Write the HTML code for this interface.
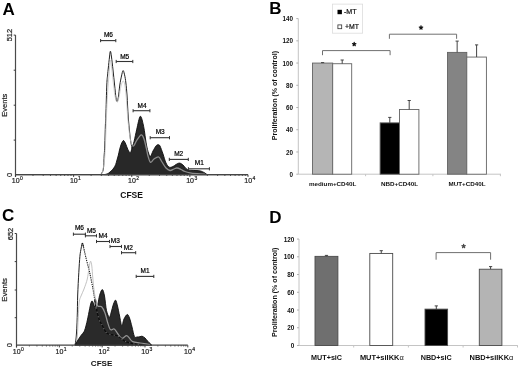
<!DOCTYPE html>
<html><head><meta charset="utf-8"><style>
html,body{margin:0;padding:0;background:#fff;}
svg{display:block;filter:grayscale(1) blur(0.3px);}
text{font-family:"Liberation Sans", sans-serif;}
</style></head><body>
<svg width="520" height="367" viewBox="0 0 520 367">
<rect width="520" height="367" fill="#fff"/>
<text x="2.5" y="14.7" font-size="17" font-weight="bold" text-anchor="start" fill="#000" >A</text>
<line x1="15.50" y1="35.10" x2="15.50" y2="176.90" stroke="#4a4a4a" stroke-width="1.2"/>
<line x1="13.70" y1="35.10" x2="15.50" y2="35.10" stroke="#3a3a3a" stroke-width="1"/>
<line x1="13.70" y1="70.20" x2="15.50" y2="70.20" stroke="#3a3a3a" stroke-width="1"/>
<line x1="13.70" y1="105.20" x2="15.50" y2="105.20" stroke="#3a3a3a" stroke-width="1"/>
<line x1="13.70" y1="140.10" x2="15.50" y2="140.10" stroke="#3a3a3a" stroke-width="1"/>
<line x1="15.50" y1="174.70" x2="248.00" y2="174.70" stroke="#454545" stroke-width="1.3"/>
<line x1="15.50" y1="174.70" x2="15.50" y2="176.90" stroke="#3a3a3a" stroke-width="1"/>
<line x1="33.00" y1="174.70" x2="33.00" y2="176.00" stroke="#3a3a3a" stroke-width="0.8"/>
<line x1="43.23" y1="174.70" x2="43.23" y2="176.00" stroke="#3a3a3a" stroke-width="0.8"/>
<line x1="50.49" y1="174.70" x2="50.49" y2="176.00" stroke="#3a3a3a" stroke-width="0.8"/>
<line x1="56.13" y1="174.70" x2="56.13" y2="176.00" stroke="#3a3a3a" stroke-width="0.8"/>
<line x1="60.73" y1="174.70" x2="60.73" y2="176.00" stroke="#3a3a3a" stroke-width="0.8"/>
<line x1="64.62" y1="174.70" x2="64.62" y2="176.00" stroke="#3a3a3a" stroke-width="0.8"/>
<line x1="67.99" y1="174.70" x2="67.99" y2="176.00" stroke="#3a3a3a" stroke-width="0.8"/>
<line x1="70.97" y1="174.70" x2="70.97" y2="176.00" stroke="#3a3a3a" stroke-width="0.8"/>
<text x="15.7" y="182.5" font-size="7" stroke="#222" stroke-width="0.2" text-anchor="middle" fill="#222" >10</text>
<text x="20.0" y="179.5" font-size="5" stroke="#222" stroke-width="0.2" text-anchor="start" fill="#222" >0</text>
<line x1="73.62" y1="174.70" x2="73.62" y2="176.90" stroke="#3a3a3a" stroke-width="1"/>
<line x1="91.12" y1="174.70" x2="91.12" y2="176.00" stroke="#3a3a3a" stroke-width="0.8"/>
<line x1="101.36" y1="174.70" x2="101.36" y2="176.00" stroke="#3a3a3a" stroke-width="0.8"/>
<line x1="108.62" y1="174.70" x2="108.62" y2="176.00" stroke="#3a3a3a" stroke-width="0.8"/>
<line x1="114.25" y1="174.70" x2="114.25" y2="176.00" stroke="#3a3a3a" stroke-width="0.8"/>
<line x1="118.86" y1="174.70" x2="118.86" y2="176.00" stroke="#3a3a3a" stroke-width="0.8"/>
<line x1="122.75" y1="174.70" x2="122.75" y2="176.00" stroke="#3a3a3a" stroke-width="0.8"/>
<line x1="126.12" y1="174.70" x2="126.12" y2="176.00" stroke="#3a3a3a" stroke-width="0.8"/>
<line x1="129.09" y1="174.70" x2="129.09" y2="176.00" stroke="#3a3a3a" stroke-width="0.8"/>
<text x="73.8" y="182.5" font-size="7" stroke="#222" stroke-width="0.2" text-anchor="middle" fill="#222" >10</text>
<text x="78.1" y="179.5" font-size="5" stroke="#222" stroke-width="0.2" text-anchor="start" fill="#222" >1</text>
<line x1="131.75" y1="174.70" x2="131.75" y2="176.90" stroke="#3a3a3a" stroke-width="1"/>
<line x1="149.25" y1="174.70" x2="149.25" y2="176.00" stroke="#3a3a3a" stroke-width="0.8"/>
<line x1="159.48" y1="174.70" x2="159.48" y2="176.00" stroke="#3a3a3a" stroke-width="0.8"/>
<line x1="166.74" y1="174.70" x2="166.74" y2="176.00" stroke="#3a3a3a" stroke-width="0.8"/>
<line x1="172.38" y1="174.70" x2="172.38" y2="176.00" stroke="#3a3a3a" stroke-width="0.8"/>
<line x1="176.98" y1="174.70" x2="176.98" y2="176.00" stroke="#3a3a3a" stroke-width="0.8"/>
<line x1="180.87" y1="174.70" x2="180.87" y2="176.00" stroke="#3a3a3a" stroke-width="0.8"/>
<line x1="184.24" y1="174.70" x2="184.24" y2="176.00" stroke="#3a3a3a" stroke-width="0.8"/>
<line x1="187.22" y1="174.70" x2="187.22" y2="176.00" stroke="#3a3a3a" stroke-width="0.8"/>
<text x="131.9" y="182.5" font-size="7" stroke="#222" stroke-width="0.2" text-anchor="middle" fill="#222" >10</text>
<text x="136.2" y="179.5" font-size="5" stroke="#222" stroke-width="0.2" text-anchor="start" fill="#222" >2</text>
<line x1="189.88" y1="174.70" x2="189.88" y2="176.90" stroke="#3a3a3a" stroke-width="1"/>
<line x1="207.37" y1="174.70" x2="207.37" y2="176.00" stroke="#3a3a3a" stroke-width="0.8"/>
<line x1="217.61" y1="174.70" x2="217.61" y2="176.00" stroke="#3a3a3a" stroke-width="0.8"/>
<line x1="224.87" y1="174.70" x2="224.87" y2="176.00" stroke="#3a3a3a" stroke-width="0.8"/>
<line x1="230.50" y1="174.70" x2="230.50" y2="176.00" stroke="#3a3a3a" stroke-width="0.8"/>
<line x1="235.11" y1="174.70" x2="235.11" y2="176.00" stroke="#3a3a3a" stroke-width="0.8"/>
<line x1="239.00" y1="174.70" x2="239.00" y2="176.00" stroke="#3a3a3a" stroke-width="0.8"/>
<line x1="242.37" y1="174.70" x2="242.37" y2="176.00" stroke="#3a3a3a" stroke-width="0.8"/>
<line x1="245.34" y1="174.70" x2="245.34" y2="176.00" stroke="#3a3a3a" stroke-width="0.8"/>
<text x="190.1" y="182.5" font-size="7" stroke="#222" stroke-width="0.2" text-anchor="middle" fill="#222" >10</text>
<text x="194.4" y="179.5" font-size="5" stroke="#222" stroke-width="0.2" text-anchor="start" fill="#222" >3</text>
<line x1="248.00" y1="174.70" x2="248.00" y2="176.90" stroke="#3a3a3a" stroke-width="1"/>
<text x="248.2" y="182.5" font-size="7" stroke="#222" stroke-width="0.2" text-anchor="middle" fill="#222" >10</text>
<text x="252.5" y="179.5" font-size="5" stroke="#222" stroke-width="0.2" text-anchor="start" fill="#222" >4</text>
<text x="12.2" y="35.1" font-size="7.5" stroke="#222" stroke-width="0.2" text-anchor="middle" fill="#222" transform="rotate(-90 12.2 35.1)" >512</text>
<text x="7.4" y="105.2" font-size="7.5" stroke="#222" stroke-width="0.2" text-anchor="middle" fill="#222" transform="rotate(-90 7.4 105.2)" >Events</text>
<text x="11.8" y="174.8" font-size="7.5" stroke="#222" stroke-width="0.2" text-anchor="middle" fill="#222" transform="rotate(-90 11.8 174.8)" >0</text>
<text x="131.6" y="197.8" font-size="8.5" font-weight="bold" text-anchor="middle" fill="#111" >CFSE</text>
<path d="M100.2,174.6 C100.7,173.8 102.5,173.3 103.2,170.0 C103.9,166.7 103.9,159.2 104.2,155.0 C104.5,150.8 104.6,150.0 104.8,145.0 C105.0,140.0 105.2,130.0 105.4,125.0 C105.6,120.0 105.7,121.7 105.9,115.0 C106.1,108.3 106.5,91.7 106.8,85.0 C107.1,78.3 107.3,77.8 107.6,75.0 C107.8,72.2 108.0,71.0 108.3,68.0 C108.6,65.0 109.2,59.8 109.5,57.0 C109.8,54.2 110.1,51.2 110.4,51.2 C110.7,51.2 111.1,53.9 111.5,57.0 C111.9,60.1 112.5,65.3 113.0,70.0 C113.5,74.7 114.1,80.3 114.6,85.0 C115.1,89.7 115.6,95.2 116.0,98.0 C116.4,100.8 116.7,101.6 117.1,101.5 C117.5,101.4 117.8,100.2 118.3,97.5 C118.8,94.8 119.3,88.6 119.8,85.0 C120.3,81.4 121.0,78.4 121.5,76.0 C122.0,73.6 122.6,70.8 123.1,70.6 C123.6,70.4 124.1,72.9 124.6,75.0 C125.1,77.1 125.5,79.7 125.9,83.0 C126.3,86.3 126.7,91.2 127.0,95.0 C127.3,98.8 127.4,102.2 127.6,106.0 C127.8,109.8 128.0,113.7 128.3,118.0 C128.6,122.3 129.2,127.8 129.6,132.0 C130.0,136.2 130.5,140.0 131.0,143.0 C131.5,146.0 131.9,147.2 132.4,150.0 C132.9,152.8 133.4,157.0 133.8,160.0 C134.2,163.0 134.5,165.6 135.0,168.0 C135.5,170.4 136.7,173.5 137.0,174.6 Z" fill="#fff" stroke="#222" stroke-width="1"/>
<path d="M102.0,174.6 C102.4,172.2 103.9,165.8 104.5,160.0 C105.1,154.2 105.3,147.5 105.6,140.0 C105.9,132.5 106.2,122.5 106.5,115.0 C106.8,107.5 107.2,100.8 107.5,95.0 C107.8,89.2 108.2,85.0 108.6,80.0 C109.0,75.0 109.5,68.3 109.8,65.0 C110.1,61.7 110.3,59.8 110.6,60.0 C110.9,60.2 111.1,62.7 111.5,66.0 C111.9,69.3 112.4,75.0 113.0,80.0 C113.6,85.0 114.3,92.3 115.0,96.0 C115.7,99.7 116.4,102.0 117.1,102.2 C117.8,102.4 118.3,99.7 119.0,97.0 C119.7,94.3 120.3,88.7 121.0,86.0 C121.7,83.3 122.5,81.0 123.2,81.0 C123.9,81.0 124.5,82.8 125.0,86.0 C125.5,89.2 126.1,95.2 126.5,100.0 C126.9,104.8 127.1,110.0 127.5,115.0 C127.9,120.0 128.5,125.8 129.0,130.0 C129.5,134.2 129.9,137.3 130.5,140.0 C131.1,142.7 131.9,145.1 132.5,146.0 C133.1,146.9 133.8,145.5 134.1,145.4" fill="none" stroke="#c4c4c4" stroke-width="0.8"/>
<path d="M104.8,174.6 C105.4,174.4 107.4,173.9 108.5,173.2 C109.6,172.5 110.6,171.5 111.5,170.6 C112.4,169.7 113.1,169.0 113.8,168.0 C114.5,167.0 115.2,165.8 115.7,164.5 C116.2,163.2 116.5,161.6 117.0,160.0 C117.5,158.4 118.0,156.7 118.4,155.0 C118.8,153.3 119.0,151.8 119.5,150.0 C120.0,148.2 120.6,145.6 121.3,144.0 C122.0,142.4 122.8,140.5 123.5,140.5 C124.2,140.5 125.0,142.5 125.7,144.0 C126.4,145.5 127.1,148.0 127.9,149.5 C128.7,151.0 129.6,153.0 130.3,152.8 C131.0,152.6 131.4,150.0 132.0,148.1 C132.6,146.2 133.3,144.5 134.1,141.3 C134.9,138.1 135.8,133.3 136.8,129.1 C137.8,124.9 139.2,116.8 140.3,116.3 C141.4,115.8 142.6,121.7 143.6,126.3 C144.6,130.9 145.5,139.6 146.3,144.0 C147.1,148.4 147.8,150.9 148.5,153.0 C149.2,155.1 149.8,156.6 150.5,156.3 C151.2,156.0 152.1,152.7 153.0,151.0 C153.9,149.3 155.2,147.1 156.0,146.0 C156.8,144.9 157.3,144.7 158.0,144.7 C158.7,144.7 159.2,144.4 160.0,146.0 C160.8,147.6 162.0,151.2 163.0,154.0 C164.0,156.8 164.9,160.8 166.0,163.0 C167.1,165.2 168.1,166.6 169.3,167.2 C170.5,167.8 171.9,166.9 173.0,166.5 C174.1,166.1 174.9,165.1 176.0,164.5 C177.1,163.9 178.4,163.0 179.6,163.1 C180.8,163.2 181.9,164.1 183.0,165.0 C184.1,165.9 185.1,167.7 186.0,168.5 C186.9,169.3 187.3,169.7 188.3,170.0 C189.3,170.3 190.1,170.2 192.0,170.3 C193.9,170.5 198.0,170.5 200.0,170.9 C202.0,171.3 202.8,171.9 204.0,172.5 C205.2,173.1 206.5,174.2 207.0,174.6 Z" fill="#282828" stroke="#0d0d0d" stroke-width="0.9"/>
<path d="M132.5,146.0 C132.8,145.9 133.3,146.4 134.1,145.4 C134.8,144.4 135.8,141.8 137.0,140.0 C138.2,138.2 140.1,135.0 141.3,134.8 C142.5,134.6 143.2,136.8 144.0,139.0 C144.8,141.2 145.6,145.2 146.3,148.0 C147.0,150.8 147.3,153.6 148.0,156.0 C148.7,158.4 149.5,161.8 150.5,162.3 C151.5,162.8 152.6,159.9 154.0,159.0 C155.4,158.1 157.4,156.5 158.7,157.0 C160.0,157.5 160.8,160.2 162.0,162.0 C163.2,163.8 164.7,166.6 166.0,168.0 C167.3,169.4 168.7,170.3 170.0,170.5 C171.3,170.7 172.8,169.4 174.0,169.0 C175.2,168.6 175.8,167.9 177.0,168.0 C178.2,168.1 179.7,168.9 181.0,169.5 C182.3,170.1 183.5,170.9 185.0,171.5 C186.5,172.1 188.0,172.5 190.0,172.8 C192.0,173.2 194.5,173.4 197.0,173.6 C199.5,173.8 203.7,174.1 205.0,174.2" fill="none" stroke="#8c8c8c" stroke-width="1.3"/>
<line x1="15.50" y1="174.70" x2="248.00" y2="174.70" stroke="#454545" stroke-width="1.3"/>
<line x1="100.60" y1="40.60" x2="115.80" y2="40.60" stroke="#333" stroke-width="1.1"/>
<line x1="100.60" y1="39.00" x2="100.60" y2="42.20" stroke="#333" stroke-width="1"/>
<line x1="115.80" y1="39.00" x2="115.80" y2="42.20" stroke="#333" stroke-width="1"/>
<text x="103.9" y="36.9" font-size="6.5" stroke="#000" stroke-width="0.2" text-anchor="start" fill="#000" >M6</text>
<line x1="116.20" y1="61.50" x2="132.80" y2="61.50" stroke="#333" stroke-width="1.1"/>
<line x1="116.20" y1="59.90" x2="116.20" y2="63.10" stroke="#333" stroke-width="1"/>
<line x1="132.80" y1="59.90" x2="132.80" y2="63.10" stroke="#333" stroke-width="1"/>
<text x="120.2" y="58.6" font-size="6.5" stroke="#000" stroke-width="0.2" text-anchor="start" fill="#000" >M5</text>
<line x1="133.10" y1="110.70" x2="149.90" y2="110.70" stroke="#333" stroke-width="1.1"/>
<line x1="133.10" y1="109.10" x2="133.10" y2="112.30" stroke="#333" stroke-width="1"/>
<line x1="149.90" y1="109.10" x2="149.90" y2="112.30" stroke="#333" stroke-width="1"/>
<text x="137.6" y="107.9" font-size="6.5" stroke="#000" stroke-width="0.2" text-anchor="start" fill="#000" >M4</text>
<line x1="150.20" y1="137.70" x2="169.50" y2="137.70" stroke="#333" stroke-width="1.1"/>
<line x1="150.20" y1="136.10" x2="150.20" y2="139.30" stroke="#333" stroke-width="1"/>
<line x1="169.50" y1="136.10" x2="169.50" y2="139.30" stroke="#333" stroke-width="1"/>
<text x="155.7" y="134.0" font-size="6.5" stroke="#000" stroke-width="0.2" text-anchor="start" fill="#000" >M3</text>
<line x1="169.30" y1="159.40" x2="188.30" y2="159.40" stroke="#333" stroke-width="1.1"/>
<line x1="169.30" y1="157.80" x2="169.30" y2="161.00" stroke="#333" stroke-width="1"/>
<line x1="188.30" y1="157.80" x2="188.30" y2="161.00" stroke="#333" stroke-width="1"/>
<text x="174.2" y="155.8" font-size="6.5" stroke="#000" stroke-width="0.2" text-anchor="start" fill="#000" >M2</text>
<line x1="188.40" y1="168.80" x2="209.40" y2="168.80" stroke="#333" stroke-width="1.1"/>
<line x1="188.40" y1="167.20" x2="188.40" y2="170.40" stroke="#333" stroke-width="1"/>
<line x1="209.40" y1="167.20" x2="209.40" y2="170.40" stroke="#333" stroke-width="1"/>
<text x="194.8" y="165.1" font-size="6.5" stroke="#000" stroke-width="0.2" text-anchor="start" fill="#000" >M1</text>
<text x="269.2" y="13.6" font-size="17" font-weight="bold" text-anchor="start" fill="#000" >B</text>
<line x1="298.30" y1="18.60" x2="298.30" y2="174.20" stroke="#c4c4c4" stroke-width="1"/>
<line x1="298.30" y1="174.20" x2="501.00" y2="174.20" stroke="#c4c4c4" stroke-width="1"/>
<line x1="365.60" y1="174.20" x2="365.60" y2="176.20" stroke="#c4c4c4" stroke-width="1"/>
<line x1="432.90" y1="174.20" x2="432.90" y2="176.20" stroke="#c4c4c4" stroke-width="1"/>
<line x1="500.40" y1="174.20" x2="500.40" y2="176.20" stroke="#c4c4c4" stroke-width="1"/>
<line x1="296.30" y1="174.20" x2="298.30" y2="174.20" stroke="#b0b0b0" stroke-width="1"/>
<text x="292.9" y="176.8" font-size="6.3" font-weight="bold" text-anchor="end" fill="#111" >0</text>
<line x1="296.30" y1="151.97" x2="298.30" y2="151.97" stroke="#b0b0b0" stroke-width="1"/>
<text x="292.9" y="154.6" font-size="6.3" font-weight="bold" text-anchor="end" fill="#111" >20</text>
<line x1="296.30" y1="129.74" x2="298.30" y2="129.74" stroke="#b0b0b0" stroke-width="1"/>
<text x="292.9" y="132.3" font-size="6.3" font-weight="bold" text-anchor="end" fill="#111" >40</text>
<line x1="296.30" y1="107.52" x2="298.30" y2="107.52" stroke="#b0b0b0" stroke-width="1"/>
<text x="292.9" y="110.1" font-size="6.3" font-weight="bold" text-anchor="end" fill="#111" >60</text>
<line x1="296.30" y1="85.29" x2="298.30" y2="85.29" stroke="#b0b0b0" stroke-width="1"/>
<text x="292.9" y="87.9" font-size="6.3" font-weight="bold" text-anchor="end" fill="#111" >80</text>
<line x1="296.30" y1="63.06" x2="298.30" y2="63.06" stroke="#b0b0b0" stroke-width="1"/>
<text x="292.9" y="65.7" font-size="6.3" font-weight="bold" text-anchor="end" fill="#111" >100</text>
<line x1="296.30" y1="40.83" x2="298.30" y2="40.83" stroke="#b0b0b0" stroke-width="1"/>
<text x="292.9" y="43.4" font-size="6.3" font-weight="bold" text-anchor="end" fill="#111" >120</text>
<line x1="296.30" y1="18.60" x2="298.30" y2="18.60" stroke="#b0b0b0" stroke-width="1"/>
<text x="292.9" y="21.2" font-size="6.3" font-weight="bold" text-anchor="end" fill="#111" >140</text>
<text x="276.7" y="95.6" font-size="7.08" font-weight="bold" text-anchor="middle" fill="#111" transform="rotate(-90 276.7 95.6)" >Proliferation (% of control)</text>
<rect x="332.40" y="4.10" width="30.20" height="29.10" fill="none" stroke="#dcdcdc" stroke-width="0.8"/>
<rect x="337.50" y="9.80" width="4.40" height="4.40" fill="#000"/>
<text x="343.9" y="14.3" font-size="7.1" stroke="#111" stroke-width="0.2" text-anchor="start" fill="#111" >-MT</text>
<rect x="337.90" y="24.90" width="3.80" height="3.80" fill="#fff" stroke="#333" stroke-width="0.8"/>
<text x="344.9" y="28.9" font-size="6.9" stroke="#111" stroke-width="0.2" text-anchor="start" fill="#111" >+MT</text>
<rect x="312.50" y="63.06" width="20.20" height="111.14" fill="#b5b5b5" stroke="#636363" stroke-width="0.9"/>
<line x1="322.60" y1="62.60" x2="322.60" y2="63.06" stroke="#444" stroke-width="1"/>
<line x1="321.00" y1="62.60" x2="324.20" y2="62.60" stroke="#444" stroke-width="1"/>
<rect x="332.70" y="63.73" width="19.00" height="110.47" fill="#fff" stroke="#636363" stroke-width="0.9"/>
<line x1="342.20" y1="60.00" x2="342.20" y2="63.73" stroke="#444" stroke-width="1"/>
<line x1="340.60" y1="60.00" x2="343.80" y2="60.00" stroke="#444" stroke-width="1"/>
<rect x="380.10" y="122.85" width="19.40" height="51.35" fill="#000" stroke="#636363" stroke-width="0.9"/>
<line x1="389.80" y1="117.40" x2="389.80" y2="122.85" stroke="#444" stroke-width="1"/>
<line x1="388.20" y1="117.40" x2="391.40" y2="117.40" stroke="#444" stroke-width="1"/>
<rect x="399.50" y="109.52" width="19.40" height="64.68" fill="#fff" stroke="#636363" stroke-width="0.9"/>
<line x1="409.20" y1="100.50" x2="409.20" y2="109.52" stroke="#444" stroke-width="1"/>
<line x1="407.60" y1="100.50" x2="410.80" y2="100.50" stroke="#444" stroke-width="1"/>
<rect x="447.50" y="52.39" width="19.30" height="121.81" fill="#848484" stroke="#636363" stroke-width="0.9"/>
<line x1="457.15" y1="41.10" x2="457.15" y2="52.39" stroke="#444" stroke-width="1"/>
<line x1="455.55" y1="41.10" x2="458.75" y2="41.10" stroke="#444" stroke-width="1"/>
<rect x="466.80" y="57.06" width="19.60" height="117.14" fill="#fff" stroke="#636363" stroke-width="0.9"/>
<line x1="476.60" y1="44.90" x2="476.60" y2="57.06" stroke="#444" stroke-width="1"/>
<line x1="475.00" y1="44.90" x2="478.20" y2="44.90" stroke="#444" stroke-width="1"/>
<path d="M322.5,55.2 V50.6 H390.1 V55.2" fill="none" stroke="#707070" stroke-width="1"/>
<path d="M389.4,38.8 V34.2 H456.6 V38.8" fill="none" stroke="#707070" stroke-width="1"/>
<path d="M354.20,44.20 L354.20,42.45 M354.20,44.20 L355.86,43.66 M354.20,44.20 L355.23,45.62 M354.20,44.20 L353.17,45.62 M354.20,44.20 L352.54,43.66" stroke="#111" stroke-width="1.3" stroke-linecap="round"/>
<path d="M421.00,27.60 L421.00,25.85 M421.00,27.60 L422.66,27.06 M421.00,27.60 L422.03,29.02 M421.00,27.60 L419.97,29.02 M421.00,27.60 L419.34,27.06" stroke="#111" stroke-width="1.3" stroke-linecap="round"/>
<text x="332.7" y="186.0" font-size="6.25" font-weight="bold" text-anchor="middle" fill="#111" >medium+CD40L</text>
<text x="399.5" y="186.0" font-size="6.25" font-weight="bold" text-anchor="middle" fill="#111" >NBD+CD40L</text>
<text x="467.0" y="186.0" font-size="6.25" font-weight="bold" text-anchor="middle" fill="#111" >MUT+CD40L</text>
<text x="2.0" y="220.6" font-size="17" font-weight="bold" text-anchor="start" fill="#000" >C</text>
<line x1="16.50" y1="233.50" x2="16.50" y2="347.40" stroke="#4a4a4a" stroke-width="1.2"/>
<line x1="14.70" y1="233.50" x2="16.50" y2="233.50" stroke="#3a3a3a" stroke-width="1"/>
<line x1="14.70" y1="261.60" x2="16.50" y2="261.60" stroke="#3a3a3a" stroke-width="1"/>
<line x1="14.70" y1="290.00" x2="16.50" y2="290.00" stroke="#3a3a3a" stroke-width="1"/>
<line x1="14.70" y1="317.70" x2="16.50" y2="317.70" stroke="#3a3a3a" stroke-width="1"/>
<line x1="16.50" y1="345.20" x2="16.50" y2="347.40" stroke="#3a3a3a" stroke-width="1"/>
<line x1="29.39" y1="345.20" x2="29.39" y2="346.50" stroke="#3a3a3a" stroke-width="0.8"/>
<line x1="36.93" y1="345.20" x2="36.93" y2="346.50" stroke="#3a3a3a" stroke-width="0.8"/>
<line x1="42.28" y1="345.20" x2="42.28" y2="346.50" stroke="#3a3a3a" stroke-width="0.8"/>
<line x1="46.43" y1="345.20" x2="46.43" y2="346.50" stroke="#3a3a3a" stroke-width="0.8"/>
<line x1="49.82" y1="345.20" x2="49.82" y2="346.50" stroke="#3a3a3a" stroke-width="0.8"/>
<line x1="52.69" y1="345.20" x2="52.69" y2="346.50" stroke="#3a3a3a" stroke-width="0.8"/>
<line x1="55.17" y1="345.20" x2="55.17" y2="346.50" stroke="#3a3a3a" stroke-width="0.8"/>
<line x1="57.37" y1="345.20" x2="57.37" y2="346.50" stroke="#3a3a3a" stroke-width="0.8"/>
<text x="16.7" y="353.7" font-size="7" stroke="#222" stroke-width="0.2" text-anchor="middle" fill="#222" >10</text>
<text x="21.0" y="350.6" font-size="5" stroke="#222" stroke-width="0.2" text-anchor="start" fill="#222" >0</text>
<line x1="59.33" y1="345.20" x2="59.33" y2="347.40" stroke="#3a3a3a" stroke-width="1"/>
<line x1="72.22" y1="345.20" x2="72.22" y2="346.50" stroke="#3a3a3a" stroke-width="0.8"/>
<line x1="79.76" y1="345.20" x2="79.76" y2="346.50" stroke="#3a3a3a" stroke-width="0.8"/>
<line x1="85.11" y1="345.20" x2="85.11" y2="346.50" stroke="#3a3a3a" stroke-width="0.8"/>
<line x1="89.26" y1="345.20" x2="89.26" y2="346.50" stroke="#3a3a3a" stroke-width="0.8"/>
<line x1="92.65" y1="345.20" x2="92.65" y2="346.50" stroke="#3a3a3a" stroke-width="0.8"/>
<line x1="95.52" y1="345.20" x2="95.52" y2="346.50" stroke="#3a3a3a" stroke-width="0.8"/>
<line x1="98.00" y1="345.20" x2="98.00" y2="346.50" stroke="#3a3a3a" stroke-width="0.8"/>
<line x1="100.19" y1="345.20" x2="100.19" y2="346.50" stroke="#3a3a3a" stroke-width="0.8"/>
<text x="59.5" y="353.7" font-size="7" stroke="#222" stroke-width="0.2" text-anchor="middle" fill="#222" >10</text>
<text x="63.8" y="350.6" font-size="5" stroke="#222" stroke-width="0.2" text-anchor="start" fill="#222" >1</text>
<line x1="102.15" y1="345.20" x2="102.15" y2="347.40" stroke="#3a3a3a" stroke-width="1"/>
<line x1="115.04" y1="345.20" x2="115.04" y2="346.50" stroke="#3a3a3a" stroke-width="0.8"/>
<line x1="122.58" y1="345.20" x2="122.58" y2="346.50" stroke="#3a3a3a" stroke-width="0.8"/>
<line x1="127.93" y1="345.20" x2="127.93" y2="346.50" stroke="#3a3a3a" stroke-width="0.8"/>
<line x1="132.08" y1="345.20" x2="132.08" y2="346.50" stroke="#3a3a3a" stroke-width="0.8"/>
<line x1="135.47" y1="345.20" x2="135.47" y2="346.50" stroke="#3a3a3a" stroke-width="0.8"/>
<line x1="138.34" y1="345.20" x2="138.34" y2="346.50" stroke="#3a3a3a" stroke-width="0.8"/>
<line x1="140.82" y1="345.20" x2="140.82" y2="346.50" stroke="#3a3a3a" stroke-width="0.8"/>
<line x1="143.02" y1="345.20" x2="143.02" y2="346.50" stroke="#3a3a3a" stroke-width="0.8"/>
<text x="102.4" y="353.7" font-size="7" stroke="#222" stroke-width="0.2" text-anchor="middle" fill="#222" >10</text>
<text x="106.7" y="350.6" font-size="5" stroke="#222" stroke-width="0.2" text-anchor="start" fill="#222" >2</text>
<line x1="144.98" y1="345.20" x2="144.98" y2="347.40" stroke="#3a3a3a" stroke-width="1"/>
<line x1="157.87" y1="345.20" x2="157.87" y2="346.50" stroke="#3a3a3a" stroke-width="0.8"/>
<line x1="165.41" y1="345.20" x2="165.41" y2="346.50" stroke="#3a3a3a" stroke-width="0.8"/>
<line x1="170.76" y1="345.20" x2="170.76" y2="346.50" stroke="#3a3a3a" stroke-width="0.8"/>
<line x1="174.91" y1="345.20" x2="174.91" y2="346.50" stroke="#3a3a3a" stroke-width="0.8"/>
<line x1="178.30" y1="345.20" x2="178.30" y2="346.50" stroke="#3a3a3a" stroke-width="0.8"/>
<line x1="181.17" y1="345.20" x2="181.17" y2="346.50" stroke="#3a3a3a" stroke-width="0.8"/>
<line x1="183.65" y1="345.20" x2="183.65" y2="346.50" stroke="#3a3a3a" stroke-width="0.8"/>
<line x1="185.84" y1="345.20" x2="185.84" y2="346.50" stroke="#3a3a3a" stroke-width="0.8"/>
<text x="145.2" y="353.7" font-size="7" stroke="#222" stroke-width="0.2" text-anchor="middle" fill="#222" >10</text>
<text x="149.5" y="350.6" font-size="5" stroke="#222" stroke-width="0.2" text-anchor="start" fill="#222" >3</text>
<line x1="187.80" y1="345.20" x2="187.80" y2="347.40" stroke="#3a3a3a" stroke-width="1"/>
<text x="188.0" y="353.7" font-size="7" stroke="#222" stroke-width="0.2" text-anchor="middle" fill="#222" >10</text>
<text x="192.3" y="350.6" font-size="5" stroke="#222" stroke-width="0.2" text-anchor="start" fill="#222" >4</text>
<text x="12.9" y="234.0" font-size="7.5" stroke="#222" stroke-width="0.2" text-anchor="middle" fill="#222" transform="rotate(-90 12.9 234.0)" >652</text>
<text x="7.4" y="289.9" font-size="7.8" stroke="#222" stroke-width="0.2" text-anchor="middle" fill="#222" transform="rotate(-90 7.4 289.9)" >Events</text>
<text x="12.0" y="345.2" font-size="7.5" stroke="#222" stroke-width="0.2" text-anchor="middle" fill="#222" transform="rotate(-90 12.0 345.2)" >0</text>
<text x="101.6" y="365.7" font-size="8.1" font-weight="bold" text-anchor="middle" fill="#111" >CFSE</text>
<path d="M75.0,345.2 C75.2,343.8 75.8,341.6 76.2,337.0 C76.6,332.4 77.0,324.5 77.2,317.5 C77.5,310.5 77.4,302.5 77.7,295.0 C78.0,287.5 78.4,279.1 78.8,272.7 C79.2,266.2 79.5,260.4 79.9,256.3 C80.3,252.2 80.8,250.2 81.2,248.0 C81.6,245.8 81.9,243.2 82.3,243.0 C82.7,242.8 83.0,244.8 83.5,247.0 C84.0,249.2 84.6,252.0 85.6,256.3 C86.6,260.6 88.5,267.2 89.7,272.7 C90.9,278.1 92.2,284.6 93.0,289.0 C93.8,293.4 94.1,295.7 94.6,298.9 C95.1,302.1 95.9,300.6 96.2,308.3 C96.5,316.0 96.2,339.1 96.2,345.2 Z" fill="#fff"/>
<path d="M75.0,345.2 C75.2,343.8 75.8,341.6 76.2,337.0 C76.6,332.4 77.0,324.5 77.2,317.5 C77.5,310.5 77.4,302.5 77.7,295.0 C78.0,287.5 78.4,279.1 78.8,272.7 C79.2,266.2 79.5,260.4 79.9,256.3 C80.3,252.2 80.8,250.2 81.2,248.0 C81.6,245.8 81.9,243.2 82.3,243.0 C82.7,242.8 83.3,246.3 83.5,247.0" fill="none" stroke="#222" stroke-width="1"/>
<path d="M82.3,243.0 C82.5,243.7 83.0,244.8 83.5,247.0 C84.0,249.2 84.6,252.0 85.6,256.3 C86.6,260.6 88.5,267.2 89.7,272.7 C90.9,278.1 92.2,284.6 93.0,289.0 C93.8,293.4 94.1,295.7 94.6,298.9 C95.1,302.1 95.9,306.7 96.2,308.3" fill="none" stroke="#1a1a1a" stroke-width="1.1" stroke-dasharray="1.3 0.9"/>
<path d="M76.5,345.2 C76.7,343.5 77.1,339.5 77.4,335.0 C77.7,330.5 77.9,323.5 78.2,318.0 C78.5,312.5 78.7,305.7 79.2,302.0 C79.7,298.3 80.2,298.2 81.0,296.0 C81.8,293.8 83.0,291.8 84.0,289.0 C85.0,286.2 86.5,282.5 87.3,279.0 C88.1,275.5 88.5,270.9 89.0,268.0 C89.5,265.1 90.0,261.6 90.5,261.3 C91.0,261.0 91.4,263.2 91.8,266.0 C92.2,268.8 92.4,274.0 92.8,278.0 C93.2,282.0 93.5,286.3 94.0,290.0 C94.5,293.7 95.2,297.3 95.8,300.0 C96.4,302.7 97.5,305.0 97.8,306.0" fill="none" stroke="#bbb" stroke-width="0.9"/>
<path d="M75.0,345.2 C75.5,344.3 77.0,341.6 78.0,340.0 C79.0,338.4 80.0,336.9 81.0,335.5 C82.0,334.1 83.1,333.4 84.0,331.7 C84.9,329.9 85.5,327.9 86.2,325.0 C87.0,322.1 87.8,318.0 88.5,314.5 C89.2,311.0 90.1,306.2 90.7,304.0 C91.3,301.8 91.5,301.1 92.0,301.0 C92.5,300.9 93.0,302.3 93.5,303.5 C94.0,304.7 94.5,306.8 95.0,308.0 C95.5,309.2 96.2,312.0 96.7,311.0 C97.2,310.0 97.8,304.8 98.3,302.0 C98.8,299.2 99.3,296.1 100.0,294.0 C100.7,291.9 101.7,289.3 102.4,289.6 C103.2,289.9 103.8,292.5 104.5,296.0 C105.2,299.5 105.7,307.0 106.5,310.5 C107.3,314.0 108.5,316.8 109.3,317.2 C110.0,317.6 110.3,315.2 111.0,313.0 C111.7,310.8 112.7,306.1 113.5,304.0 C114.3,301.9 114.9,299.9 115.6,300.2 C116.3,300.5 116.8,303.4 117.5,306.0 C118.2,308.6 118.9,312.7 119.6,316.0 C120.3,319.3 121.1,325.3 121.8,325.8 C122.5,326.3 123.1,320.9 124.0,319.0 C124.9,317.1 126.3,314.7 127.2,314.5 C128.1,314.3 128.7,315.9 129.5,318.0 C130.3,320.1 131.2,323.9 132.0,327.0 C132.8,330.1 133.6,334.8 134.4,336.5 C135.2,338.2 136.1,337.0 137.0,337.0 C137.9,337.0 139.2,336.8 140.0,336.7 C140.8,336.6 141.2,336.0 142.0,336.2 C142.8,336.4 144.0,337.1 145.0,338.0 C146.0,338.9 146.9,340.3 148.0,341.5 C149.1,342.7 151.2,344.6 151.8,345.2 Z" fill="#2a2a2a" stroke="#0d0d0d" stroke-width="0.9"/>
<path d="M95.8,300.0 C96.1,301.0 96.8,304.9 97.8,306.0 C98.8,307.1 100.4,305.6 101.6,306.7 C102.8,307.8 103.9,310.1 104.9,312.7 C105.9,315.2 106.6,319.2 107.5,322.0 C108.4,324.8 109.3,328.4 110.4,329.6 C111.5,330.8 112.9,328.3 114.2,329.0 C115.5,329.7 116.7,332.4 118.0,334.0 C119.3,335.6 120.3,338.0 121.8,338.3 C123.2,338.6 125.3,335.5 126.7,335.6 C128.1,335.7 129.0,338.0 130.0,339.0 C131.0,340.0 131.0,340.9 132.7,341.6 C134.4,342.3 137.1,342.5 140.0,343.0 C142.9,343.5 148.3,344.3 150.0,344.6" fill="none" stroke="#959595" stroke-width="1.2"/>
<path d="M94.6,298.9 C94.9,300.5 95.4,304.7 96.2,308.3 C97.0,311.9 98.5,317.7 99.4,320.4 C100.3,323.1 100.7,322.5 101.8,324.5 C102.9,326.5 104.7,330.7 106.0,332.3 C107.3,333.9 108.2,333.8 109.5,334.2 C110.8,334.6 112.2,334.7 113.6,335.0 C115.0,335.3 116.2,335.2 118.0,336.2 C119.8,337.2 122.6,339.9 124.5,341.0 C126.4,342.1 127.7,342.2 129.4,342.7 C131.2,343.2 132.9,343.8 135.0,344.2 C137.1,344.6 140.8,344.9 142.0,345.0" fill="none" stroke="#0c0c0c" stroke-width="1.2"/>
<path d="M94.6,298.9 C94.9,300.5 95.4,304.7 96.2,308.3 C97.0,311.9 98.5,317.7 99.4,320.4 C100.3,323.1 100.7,322.5 101.8,324.5 C102.9,326.5 104.7,330.7 106.0,332.3 C107.3,333.9 108.2,333.8 109.5,334.2 C110.8,334.6 112.2,334.7 113.6,335.0 C115.0,335.3 116.2,335.2 118.0,336.2 C119.8,337.2 122.6,339.9 124.5,341.0 C126.4,342.1 127.7,342.2 129.4,342.7 C131.2,343.2 132.9,343.8 135.0,344.2 C137.1,344.6 140.8,344.9 142.0,345.0" fill="none" stroke="#6a6a6a" stroke-width="1.1" stroke-dasharray="1.2 3.2"/>
<line x1="16.50" y1="345.20" x2="187.80" y2="345.20" stroke="#454545" stroke-width="1.3"/>
<line x1="73.40" y1="234.20" x2="85.40" y2="234.20" stroke="#333" stroke-width="1.1"/>
<line x1="73.40" y1="232.60" x2="73.40" y2="235.80" stroke="#333" stroke-width="1"/>
<line x1="85.40" y1="232.60" x2="85.40" y2="235.80" stroke="#333" stroke-width="1"/>
<text x="74.9" y="230.4" font-size="6.5" stroke="#000" stroke-width="0.2" text-anchor="start" fill="#000" >M6</text>
<line x1="85.40" y1="235.80" x2="96.50" y2="235.80" stroke="#333" stroke-width="1.1"/>
<line x1="85.40" y1="234.20" x2="85.40" y2="237.40" stroke="#333" stroke-width="1"/>
<line x1="96.50" y1="234.20" x2="96.50" y2="237.40" stroke="#333" stroke-width="1"/>
<text x="86.9" y="232.7" font-size="6.5" stroke="#000" stroke-width="0.2" text-anchor="start" fill="#000" >M5</text>
<line x1="96.50" y1="241.50" x2="109.50" y2="241.50" stroke="#333" stroke-width="1.1"/>
<line x1="96.50" y1="239.90" x2="96.50" y2="243.10" stroke="#333" stroke-width="1"/>
<line x1="109.50" y1="239.90" x2="109.50" y2="243.10" stroke="#333" stroke-width="1"/>
<text x="98.5" y="238.1" font-size="6.5" stroke="#000" stroke-width="0.2" text-anchor="start" fill="#000" >M4</text>
<line x1="110.00" y1="246.50" x2="121.50" y2="246.50" stroke="#333" stroke-width="1.1"/>
<line x1="110.00" y1="244.90" x2="110.00" y2="248.10" stroke="#333" stroke-width="1"/>
<line x1="121.50" y1="244.90" x2="121.50" y2="248.10" stroke="#333" stroke-width="1"/>
<text x="110.8" y="243.0" font-size="6.5" stroke="#000" stroke-width="0.2" text-anchor="start" fill="#000" >M3</text>
<line x1="121.50" y1="252.70" x2="135.70" y2="252.70" stroke="#333" stroke-width="1.1"/>
<line x1="121.50" y1="251.10" x2="121.50" y2="254.30" stroke="#333" stroke-width="1"/>
<line x1="135.70" y1="251.10" x2="135.70" y2="254.30" stroke="#333" stroke-width="1"/>
<text x="123.8" y="249.6" font-size="6.5" stroke="#000" stroke-width="0.2" text-anchor="start" fill="#000" >M2</text>
<line x1="136.20" y1="276.40" x2="153.80" y2="276.40" stroke="#333" stroke-width="1.1"/>
<line x1="136.20" y1="274.80" x2="136.20" y2="278.00" stroke="#333" stroke-width="1"/>
<line x1="153.80" y1="274.80" x2="153.80" y2="278.00" stroke="#333" stroke-width="1"/>
<text x="140.5" y="272.6" font-size="6.5" stroke="#000" stroke-width="0.2" text-anchor="start" fill="#000" >M1</text>
<text x="269.2" y="223.3" font-size="17" font-weight="bold" text-anchor="start" fill="#000" >D</text>
<line x1="299.00" y1="239.06" x2="299.00" y2="345.50" stroke="#c4c4c4" stroke-width="1"/>
<line x1="299.00" y1="345.50" x2="517.80" y2="345.50" stroke="#c4c4c4" stroke-width="1"/>
<line x1="353.70" y1="345.50" x2="353.70" y2="347.50" stroke="#c4c4c4" stroke-width="1"/>
<line x1="408.40" y1="345.50" x2="408.40" y2="347.50" stroke="#c4c4c4" stroke-width="1"/>
<line x1="463.10" y1="345.50" x2="463.10" y2="347.50" stroke="#c4c4c4" stroke-width="1"/>
<line x1="517.50" y1="345.50" x2="517.50" y2="347.50" stroke="#c4c4c4" stroke-width="1"/>
<line x1="297.00" y1="345.50" x2="299.00" y2="345.50" stroke="#b0b0b0" stroke-width="1"/>
<text x="294.4" y="348.1" font-size="6.4" font-weight="bold" text-anchor="end" fill="#111" >0</text>
<line x1="297.00" y1="327.76" x2="299.00" y2="327.76" stroke="#b0b0b0" stroke-width="1"/>
<text x="294.4" y="330.4" font-size="6.4" font-weight="bold" text-anchor="end" fill="#111" >20</text>
<line x1="297.00" y1="310.02" x2="299.00" y2="310.02" stroke="#b0b0b0" stroke-width="1"/>
<text x="294.4" y="312.6" font-size="6.4" font-weight="bold" text-anchor="end" fill="#111" >40</text>
<line x1="297.00" y1="292.28" x2="299.00" y2="292.28" stroke="#b0b0b0" stroke-width="1"/>
<text x="294.4" y="294.9" font-size="6.4" font-weight="bold" text-anchor="end" fill="#111" >60</text>
<line x1="297.00" y1="274.54" x2="299.00" y2="274.54" stroke="#b0b0b0" stroke-width="1"/>
<text x="294.4" y="277.1" font-size="6.4" font-weight="bold" text-anchor="end" fill="#111" >80</text>
<line x1="297.00" y1="256.80" x2="299.00" y2="256.80" stroke="#b0b0b0" stroke-width="1"/>
<text x="294.4" y="259.4" font-size="6.4" font-weight="bold" text-anchor="end" fill="#111" >100</text>
<line x1="297.00" y1="239.06" x2="299.00" y2="239.06" stroke="#b0b0b0" stroke-width="1"/>
<text x="294.4" y="241.7" font-size="6.4" font-weight="bold" text-anchor="end" fill="#111" >120</text>
<text x="276.7" y="292.3" font-size="7.1" font-weight="bold" text-anchor="middle" fill="#111" transform="rotate(-90 276.7 292.3)" >Proliferation (% of control)</text>
<rect x="315.00" y="256.36" width="22.90" height="89.14" fill="#6f6f6f" stroke="#4a4a4a" stroke-width="0.9"/>
<line x1="326.45" y1="255.40" x2="326.45" y2="256.36" stroke="#444" stroke-width="1"/>
<line x1="324.85" y1="255.40" x2="328.05" y2="255.40" stroke="#444" stroke-width="1"/>
<rect x="369.80" y="253.43" width="22.90" height="92.07" fill="#fff" stroke="#4a4a4a" stroke-width="0.9"/>
<line x1="381.25" y1="250.70" x2="381.25" y2="253.43" stroke="#444" stroke-width="1"/>
<line x1="379.65" y1="250.70" x2="382.85" y2="250.70" stroke="#444" stroke-width="1"/>
<rect x="425.00" y="309.13" width="22.60" height="36.37" fill="#000" stroke="#4a4a4a" stroke-width="0.9"/>
<line x1="436.30" y1="305.90" x2="436.30" y2="309.13" stroke="#444" stroke-width="1"/>
<line x1="434.70" y1="305.90" x2="437.90" y2="305.90" stroke="#444" stroke-width="1"/>
<rect x="479.30" y="269.22" width="22.60" height="76.28" fill="#b4b4b4" stroke="#4a4a4a" stroke-width="0.9"/>
<line x1="490.60" y1="266.60" x2="490.60" y2="269.22" stroke="#444" stroke-width="1"/>
<line x1="489.00" y1="266.60" x2="492.20" y2="266.60" stroke="#444" stroke-width="1"/>
<path d="M436.1,259.7 V252.6 H490.6 V259.7" fill="none" stroke="#707070" stroke-width="1"/>
<path d="M463.60,246.20 L463.60,244.45 M463.60,246.20 L465.26,245.66 M463.60,246.20 L464.63,247.62 M463.60,246.20 L462.57,247.62 M463.60,246.20 L461.94,245.66" stroke="#4a4a4a" stroke-width="1.3" stroke-linecap="round"/>
<text x="326.6" y="359.6" font-size="7.2" font-weight="bold" text-anchor="middle" fill="#111" >MUT+siC</text>
<text x="381.8" y="359.6" font-size="7.45" font-weight="bold" text-anchor="middle" fill="#111" >MUT+siIKK<tspan font-weight="normal">&#945;</tspan></text>
<text x="436.2" y="359.6" font-size="7.2" font-weight="bold" text-anchor="middle" fill="#111" >NBD+siC</text>
<text x="491.5" y="359.6" font-size="7.45" font-weight="bold" text-anchor="middle" fill="#111" >NBD+siIKK<tspan font-weight="normal">&#945;</tspan></text>
</svg>
</body></html>
